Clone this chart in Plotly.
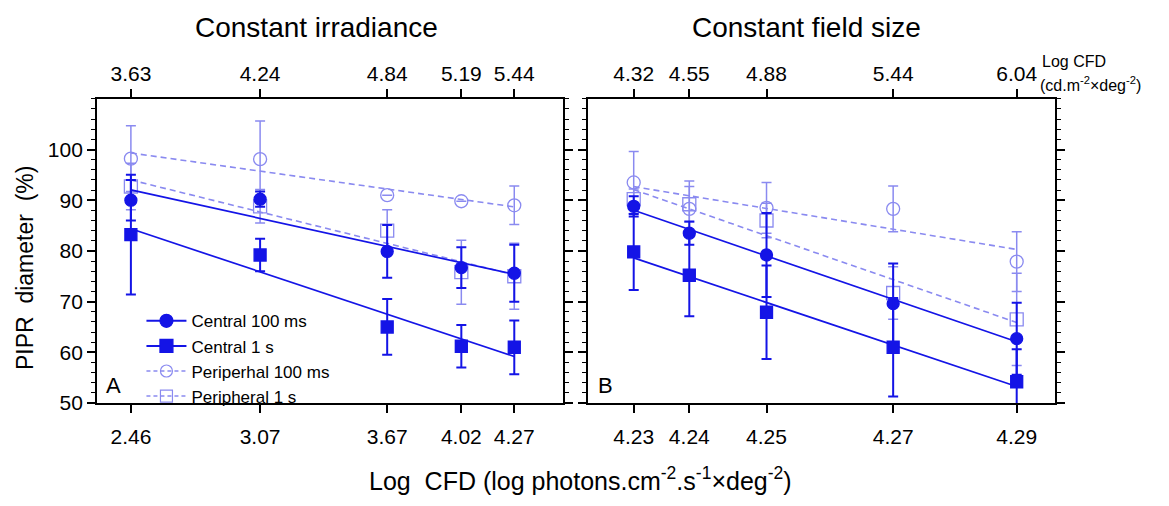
import numpy as np
import plotly.graph_objects as go

# ---------------- data ----------------
# Panel A: constant irradiance
xA = [2.46, 3.07, 3.67, 4.02, 4.27]
xA_bottom_labels = ["2.46", "3.07", "3.67", "4.02", "4.27"]
xA_top_labels = ["3.63", "4.24", "4.84", "5.19", "5.44"]
A_c100 = [90.0, 90.2, 79.9, 76.7, 75.6]
A_c100_err = [4.0, 1.5, 5.2, 4.0, 5.6]
A_c1s = [83.2, 79.2, 65.0, 61.2, 61.0]
A_c1s_err = [11.8, 3.2, 5.5, 4.2, 5.3]
A_p100 = [98.2, 98.1, 91.0, 89.8, 89.0]
A_p100_err = [6.5, 7.5, None, None, 3.8]
A_p1s = [92.7, 88.8, 84.0, 75.8, 75.0]
A_p1s_err = [4.6, 3.3, 4.1, 6.3, 6.5]

# Panel B: constant field size
xB = [4.228, 4.237, 4.2495, 4.270, 4.290]
xB_bottom_labels = ["4.23", "4.24", "4.25", "4.27", "4.29"]
xB_top_labels = ["4.32", "4.55", "4.88", "5.44", "6.04"]
B_c100 = [88.8, 83.5, 79.2, 69.6, 62.7]
B_c100_err = [2.0, 2.3, 8.3, 7.9, 7.1]
B_c1s = [79.8, 75.2, 67.9, 61.0, 54.2]
B_c1s_err = [7.5, 8.1, 9.2, 9.7, 6.4]
B_p100 = [93.5, 88.3, 88.5, 88.3, 77.9]
B_p100_err = [6.1, 5.5, 5.0, 4.5, 5.9]
B_p1s = [90.2, 89.2, 86.0, 71.7, 66.5]
B_p1s_err = [2.0, 3.5, 3.4, 5.2, 9.1]

series_names = ["Central 100 ms", "Central 1 s", "Periperhal 100 ms", "Peripheral 1 s"]
y_ticks = [50, 60, 70, 80, 90, 100]

# ---------------- styles ----------------
DARK = "#1414e6"
LIGHT = "#8a8af0"
FONT = "Liberation Sans, Arial, sans-serif"

styles = {
    "Central 100 ms": dict(color=DARK, symbol="circle", dash="solid"),
    "Central 1 s": dict(color=DARK, symbol="square", dash="solid"),
    "Periperhal 100 ms": dict(color=LIGHT, symbol="circle-open", dash="6px,4px"),
    "Peripheral 1 s": dict(color=LIGHT, symbol="square-open", dash="6px,4px"),
}

fig = go.Figure()


def add_panel(x, data, xa, ya):
    # draw peripheral first, central on top
    order = ["Periperhal 100 ms", "Peripheral 1 s", "Central 100 ms", "Central 1 s"]
    for name in order:
        y, err = data[name]
        st = styles[name]
        dark = st["color"] == DARK
        xs = np.array(x, dtype=float)
        ys = np.array(y, dtype=float)
        k, b = np.polyfit(xs, ys, 1)
        fx = np.array([xs.min(), xs.max()])
        fig.add_trace(go.Scatter(
            x=fx, y=k * fx + b, mode="lines", xaxis=xa, yaxis=ya,
            line=dict(color=st["color"], width=1.7 if dark else 1.6, dash=st["dash"]),
            showlegend=False, hoverinfo="skip"))
        fig.add_trace(go.Scatter(
            x=x, y=y, mode="markers", xaxis=xa, yaxis=ya,
            marker=dict(symbol=st["symbol"], size=12 if dark else 13,
                        color=st["color"], line=dict(color=st["color"], width=1.3)),
            error_y=dict(type="data", array=err, visible=True, color=st["color"],
                         thickness=2.0 if dark else 1.5, width=5),
            cliponaxis=False, showlegend=False))


add_panel(xA, {
    "Central 100 ms": (A_c100, A_c100_err),
    "Central 1 s": (A_c1s, A_c1s_err),
    "Periperhal 100 ms": (A_p100, A_p100_err),
    "Peripheral 1 s": (A_p1s, A_p1s_err),
}, "x", "y")

add_panel(xB, {
    "Central 100 ms": (B_c100, B_c100_err),
    "Central 1 s": (B_c1s, B_c1s_err),
    "Periperhal 100 ms": (B_p100, B_p100_err),
    "Peripheral 1 s": (B_p1s, B_p1s_err),
}, "x2", "y2")

# empty traces so the top (secondary) axes are drawn
fig.add_trace(go.Scatter(x=xA, y=[None] * len(xA), xaxis="x3", yaxis="y",
                         mode="markers", showlegend=False, hoverinfo="skip"))
fig.add_trace(go.Scatter(x=xB, y=[None] * len(xB), xaxis="x4", yaxis="y2",
                         mode="markers", showlegend=False, hoverinfo="skip"))

# legend entries
for name in series_names:
    st = styles[name]
    dark = st["color"] == DARK
    fig.add_trace(go.Scatter(
        x=[None], y=[None], mode="lines+markers", name=name,
        line=dict(color=st["color"], width=2.0 if dark else 1.5,
                  dash="solid" if dark else "4px,3px"),
        marker=dict(symbol=st["symbol"], size=13 if dark else 12, color=st["color"],
                    line=dict(color=st["color"], width=1.2)),
        showlegend=True))

W, H = 1169, 506
dom_y = [1 - 412 / H, 1 - 101 / H]
domA = [97 / W, 563 / W]
domB = [588 / W, 1055 / W]

axis_common = dict(showgrid=False, zeroline=False, showline=True, linecolor="black",
                   linewidth=1.8, ticks="outside", tickcolor="black", tickwidth=1.5,
                   ticklen=8, tickfont=dict(family=FONT, size=21, color="black"))

fig.update_layout(
    width=W, height=H, margin=dict(l=0, r=0, t=0, b=0),
    paper_bgcolor="white", plot_bgcolor="white",
    font=dict(family=FONT, color="black"),
    showlegend=True,
    legend=dict(x=0.121, y=1 - 310 / H, xanchor="left", yanchor="top",
                bgcolor="rgba(0,0,0,0)", font=dict(family=FONT, size=17, color="black"),
                tracegroupgap=0, itemwidth=40),
    xaxis=dict(domain=domA, range=[2.30, 4.50], anchor="y", tickmode="array",
               tickvals=xA, ticktext=xA_bottom_labels, ticklabelstandoff=6, **axis_common),
    xaxis3=dict(overlaying="x", side="top", anchor="y", range=[2.30, 4.50],
                tickmode="array", tickvals=xA, ticktext=xA_top_labels, **axis_common),
    xaxis2=dict(domain=domB, range=[4.2206, 4.2962], anchor="y2", tickmode="array",
                tickvals=xB, ticktext=xB_bottom_labels, ticklabelstandoff=6, **axis_common),
    xaxis4=dict(overlaying="x2", side="top", anchor="y2", range=[4.2206, 4.2962],
                tickmode="array", tickvals=xB, ticktext=xB_top_labels, **axis_common),
    yaxis=dict(domain=dom_y, range=[50, 110], anchor="x", tickmode="array",
               tickvals=y_ticks, mirror="ticks",
               minor=dict(ticks="outside", ticklen=4, dtick=2, tick0=50,
                          tickcolor="black", tickwidth=1.2),
               **axis_common),
    yaxis2=dict(domain=dom_y, range=[50, 110], anchor="x2", tickmode="array",
                tickvals=y_ticks, mirror="ticks", showticklabels=False,
                minor=dict(ticks="outside", ticklen=4, dtick=2, tick0=50,
                           tickcolor="black", tickwidth=1.2),
                **axis_common),
)

ann = [
    dict(text="Constant irradiance", x=316 / W, y=1 - 28 / H, size=28, xa="center"),
    dict(text="Constant field size", x=806 / W, y=1 - 28 / H, size=28, xa="center"),
    dict(text="A", x=104 / W, y=1 - 394 / H, size=22, xa="left"),
    dict(text="B", x=596 / W, y=1 - 394 / H, size=22, xa="left"),
    dict(text="Log  CFD (log photons.cm<sup>-2</sup>.s<sup>-1</sup>\u00d7deg<sup>-2</sup>)",
         x=580 / W, y=1 - 490 / H, size=25, xa="center"),
    dict(text="Log CFD", x=1040 / W, y=1 - 63 / H, size=16, xa="left"),
    dict(text="(cd.m<sup>-2</sup>\u00d7deg<sup>-2</sup>)", x=1038 / W, y=1 - 86 / H, size=16, xa="left"),
]
for a in ann:
    fig.add_annotation(text=a["text"], x=a["x"], y=a["y"], xref="paper", yref="paper",
                       showarrow=False, xanchor=a["xa"], yanchor="middle",
                       font=dict(family=FONT, size=a["size"], color="black"))

fig.add_annotation(text="PIPR  diameter  (%)", x=25 / W, y=1 - 274 / H, xref="paper",
                   yref="paper", showarrow=False, textangle=-90, xanchor="center",
                   yanchor="middle", font=dict(family=FONT, size=23, color="black"))

fig.write_html("out.html")
